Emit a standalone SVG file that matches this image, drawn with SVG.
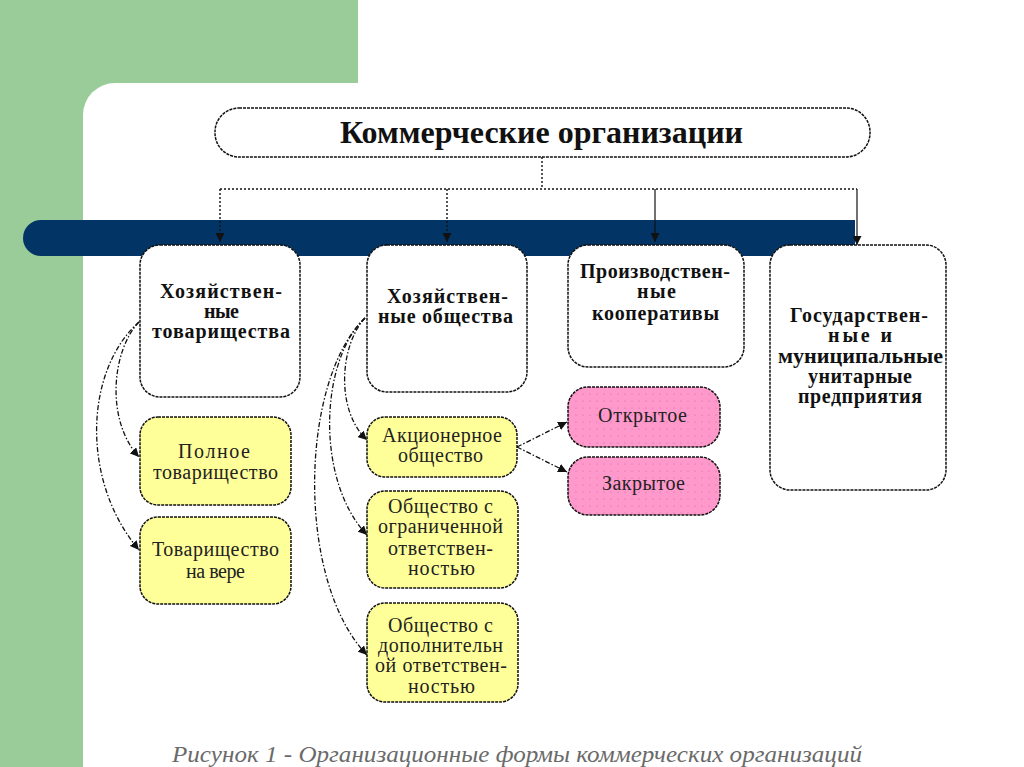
<svg xmlns="http://www.w3.org/2000/svg" width="1024" height="767" viewBox="0 0 1024 767">
<defs>
<style>
.bx{fill:#fff;stroke:#111;stroke-width:1.5;stroke-dasharray:3 1}
.yl{fill:#FFFF99;stroke:#111;stroke-width:1.5;stroke-dasharray:3 1}
.pk{stroke:#111;stroke-width:1.5;stroke-dasharray:3 1}
.tb{font-family:"Liberation Serif","DejaVu Serif",serif;font-weight:bold;font-size:20px;fill:#111}
.tt{font-family:"Liberation Serif","DejaVu Serif",serif;font-weight:bold;font-size:31px;fill:#111}
.tr{font-family:"Liberation Serif","DejaVu Serif",serif;font-size:20px;fill:#222}
.cn{fill:none;stroke:#111;stroke-width:1.3;stroke-dasharray:5 2 1.5 2}
.dt{fill:none;stroke:#111;stroke-width:1.4;stroke-dasharray:2 2}
.sl{fill:none;stroke:#111;stroke-width:1.2}
.cap{font-family:"Liberation Serif","DejaVu Serif",serif;font-style:italic;font-size:24px;fill:#6a6a6a}
</style>
<marker id="ah" viewBox="0 0 10 10" refX="10" refY="5" markerWidth="9" markerHeight="9" markerUnits="userSpaceOnUse" orient="auto">
<path d="M0,0 L10,5 L0,10 z" fill="#111"/>
</marker>
<pattern id="dots" width="7" height="7" patternUnits="userSpaceOnUse">
<rect width="7" height="7" fill="#FF99CC"/>
<circle cx="2" cy="2" r="0.6" fill="#c7689f"/>
</pattern>
</defs>
<rect x="0" y="0" width="1024" height="767" fill="#fff"/>
<rect x="0" y="0" width="358" height="767" fill="#99CC99"/>
<rect x="83" y="83" width="1000" height="760" rx="32" fill="#fff"/>
<path id="bar" d="M41,220 H855 V256 H41 A18,18 0 0 1 41,220 z" fill="#023466"/>

<g id="connectors">
<path class="dt" d="M542,157 V189"/>
<path class="dt" d="M220,189 H857"/>
<path class="dt" d="M220,189 V242" marker-end="url(#ah)"/>
<path class="dt" d="M447,189 V242" marker-end="url(#ah)"/>
<path class="sl" d="M655,189 V242" marker-end="url(#ah)"/>
<path class="sl" d="M857,189 V245" marker-end="url(#ah)"/>
<path class="cn" d="M139,322 C112,350 105,420 139,457" marker-end="url(#ah)"/>
<path class="cn" d="M139,322 C85,370 80,480 139,550" marker-end="url(#ah)"/>
<path class="cn" d="M365,318 C340,345 335,410 367,440" marker-end="url(#ah)"/>
<path class="cn" d="M365,318 C320,360 315,480 367,535" marker-end="url(#ah)"/>
<path class="cn" d="M365,318 C300,380 295,580 367,655" marker-end="url(#ah)"/>
<path class="cn" d="M517,447 L567,422" marker-end="url(#ah)"/>
<path class="cn" d="M517,447 L567,472" marker-end="url(#ah)"/>
</g>

<g id="n-commercial">
<rect x="215" y="108" width="655" height="49" rx="24" class="bx"/>
<text class="tt" x="340" y="143" textLength="403" lengthAdjust="spacingAndGlyphs">Коммерческие организации</text>
</g>

<g id="n-partnerships">
<rect x="140" y="245" width="160" height="152" rx="20" class="bx"/>
<text class="tb" x="160" y="298" textLength="122">Хозяйствен-</text>
<text class="tb" x="204" y="318" textLength="35">ные</text>
<text class="tb" x="152" y="338" textLength="138">товарищества</text>
</g>

<g id="n-societies">
<rect x="367" y="245" width="160" height="147" rx="20" class="bx"/>
<text class="tb" x="387" y="303" textLength="121">Хозяйствен-</text>
<text class="tb" x="378" y="323" textLength="135">ные общества</text>
</g>

<g id="n-coops">
<rect x="568" y="245" width="176" height="122" rx="20" class="bx"/>
<text class="tb" x="580" y="278" textLength="150">Производствен-</text>
<text class="tb" x="637" y="298" textLength="39">ные</text>
<text class="tb" x="592" y="320" textLength="127">кооперативы</text>
</g>

<g id="n-unitary">
<rect x="770" y="245" width="176" height="245" rx="20" class="bx"/>
<text class="tb" x="790" y="322" textLength="138">Государствен-</text>
<text class="tb" x="828" y="342" textLength="64">ные и</text>
<text class="tb" x="778" y="363" textLength="165" lengthAdjust="spacingAndGlyphs">муниципальные</text>
<text class="tb" x="808" y="383" textLength="104">унитарные</text>
<text class="tb" x="798" y="403" textLength="124">предприятия</text>
</g>

<g id="n-full">
<rect x="140" y="417" width="151" height="88" rx="18" class="yl"/>
<text class="tr" x="178" y="458" textLength="72">Полное</text>
<text class="tr" x="153" y="479" textLength="125">товарищество</text>
</g>

<g id="n-limited-partnership">
<rect x="140" y="517" width="151" height="87" rx="18" class="yl"/>
<text class="tr" x="152" y="556" textLength="127">Товарищество</text>
<text class="tr" x="186" y="578" textLength="59">на вере</text>
</g>

<g id="n-joint-stock">
<rect x="367" y="417" width="150" height="60" rx="18" class="yl"/>
<text class="tr" x="382" y="442" textLength="120">Акционерное</text>
<text class="tr" x="398" y="462" textLength="85">общество</text>
</g>

<g id="n-llc">
<rect x="367" y="491" width="151" height="97" rx="18" class="yl"/>
<text class="tr" x="388" y="513" textLength="105">Общество с</text>
<text class="tr" x="378" y="533" textLength="125">ограниченной</text>
<text class="tr" x="388" y="555" textLength="105">ответствен-</text>
<text class="tr" x="408" y="575" textLength="67">ностью</text>
</g>

<g id="n-alc">
<rect x="367" y="603" width="151" height="99" rx="18" class="yl"/>
<text class="tr" x="388" y="632" textLength="105">Общество с</text>
<text class="tr" x="378" y="652" textLength="125">дополнительн</text>
<text class="tr" x="375" y="672" textLength="132">ой ответствен-</text>
<text class="tr" x="408" y="693" textLength="67">ностью</text>
</g>

<g id="n-open">
<rect x="568" y="387" width="152" height="60" rx="20" fill="url(#dots)" class="pk"/>
<text class="tr" x="598" y="422" textLength="89">Открытое</text>
</g>

<g id="n-closed">
<rect x="568" y="457" width="152" height="58" rx="20" fill="url(#dots)" class="pk"/>
<text class="tr" x="602" y="490" textLength="83">Закрытое</text>
</g>

<text id="caption" class="cap" x="172" y="762" textLength="690" lengthAdjust="spacingAndGlyphs">Рисунок 1 - Организационные формы коммерческих организаций</text>
</svg>
